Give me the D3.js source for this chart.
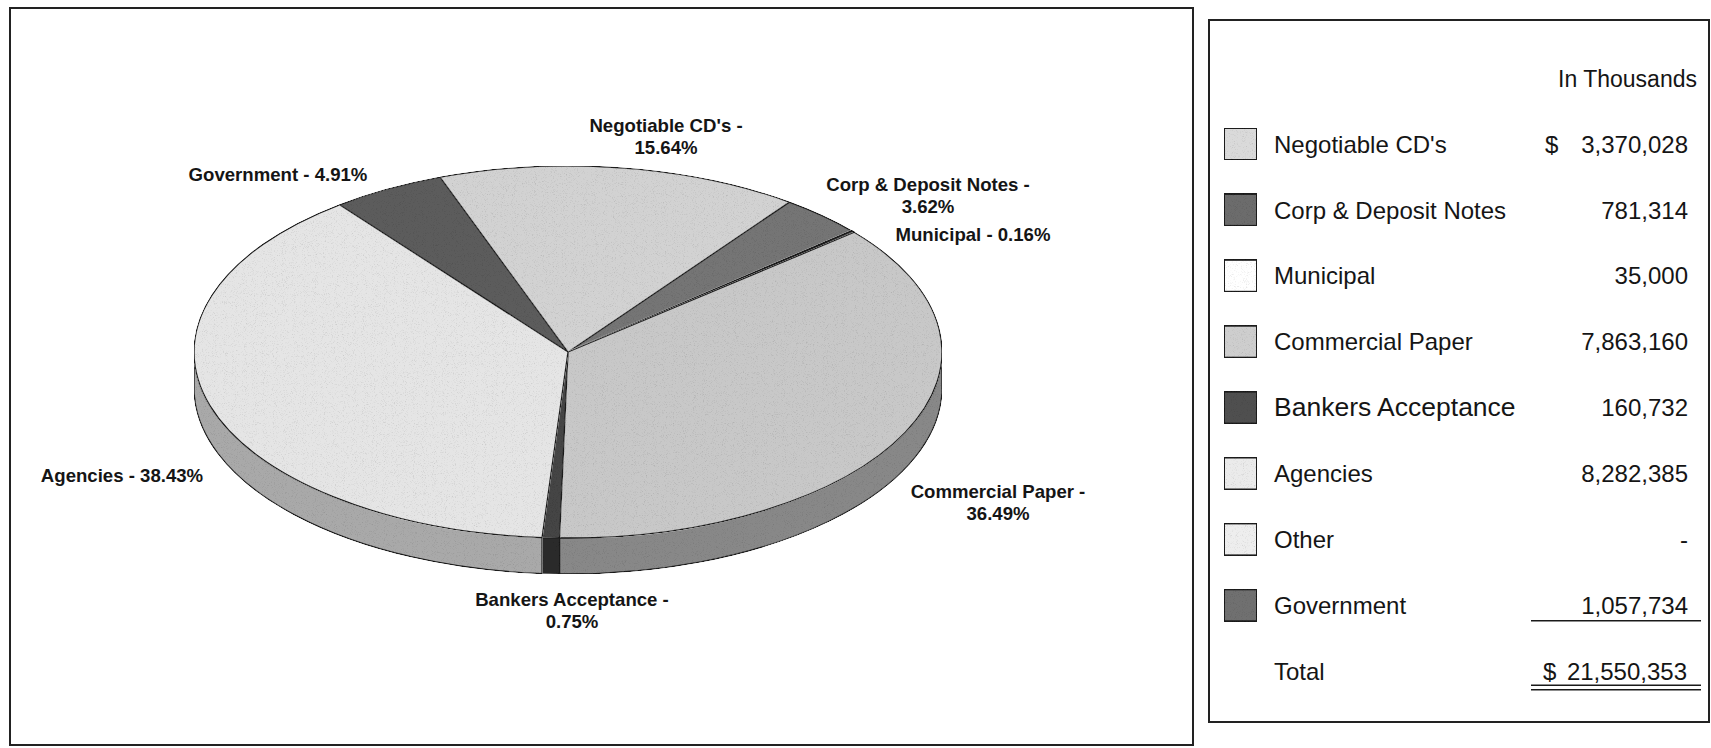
<!DOCTYPE html>
<html>
<head>
<meta charset="utf-8">
<script src="https://cdn.jsdelivr.net/npm/d3@7"></script>
<style>
  html, body { margin: 0; padding: 0; background: #fff; }
  svg { display: block; }
  .lbl { font-family: "Liberation Sans", Arial, sans-serif; font-weight: bold; font-size: 18.6px; fill: #151515; }
  .leg { font-family: "Liberation Sans", Arial, sans-serif; font-size: 24px; fill: #151515; }
</style>
</head>
<body>
<div id="container"></div>
<script>
// portfolio holdings, in thousands
const categories = ["Negotiable CD's", "Corp & Deposit Notes", "Municipal", "Commercial Paper",
                    "Bankers Acceptance", "Agencies", "Other", "Government"];
const amounts = [3370028, 781314, 35000, 7863160, 160732, 8282385, 0, 1057734];
// percentages as printed on the chart labels
const percents = [15.64, 3.62, 0.16, 36.49, 0.75, 38.43, 0, 4.91];

// grey shades used by the pie and legend
const topFills  = ["#d2d2d2", "#747474", "#ffffff", "#c8c8c8", "#444444", "#e5e5e5", "#ececec", "#5c5c5c"];
const sideFills = ["#a0a0a0", "#555555", "#dddddd", "#888888", "#2c2c2c", "#a9a9a9", "#b8b8b8", "#454545"];
const swatchFills = ["#dadada", "#6c6c6c", "#ffffff", "#cecece", "#505050", "#ebebeb", "#eeeeee", "#707070"];

// where Excel put each data label: centre x, first baseline, wrapped onto two lines?
const labelLayout = [[666, 132, true], [928, 191, true], [973, 241, false], [998, 498, true],
                     [572, 606, true], [122, 482, false], null, [278, 181, false]];

const W = 1711, H = 748;
const cx = 568, cy = 352, rx = 374, ry = 186, depth = 36;
const startAngle = -20 * Math.PI / 180;

const total = d3.sum(amounts);
const fmt = d3.format(",");

const svg = d3.select("#container").append("svg")
    .attr("width", W).attr("height", H);

// speckled, scanned look
const defs = svg.append("defs");
const grain = defs.append("filter").attr("id", "grain").attr("x", 0).attr("y", 0).attr("width", 1).attr("height", 1);
grain.append("feTurbulence").attr("type", "fractalNoise").attr("baseFrequency", 1.1).attr("numOctaves", 2).attr("seed", 4).attr("result", "noise");
grain.append("feColorMatrix").attr("in", "noise").attr("type", "matrix")
    .attr("values", "0.7 0 0 0 0.68  0.7 0 0 0 0.68  0.7 0 0 0 0.68  0 0 0 0 1").attr("result", "gn");
grain.append("feBlend").attr("in", "SourceGraphic").attr("in2", "gn").attr("mode", "multiply").attr("result", "bl");
grain.append("feComposite").attr("in", "bl").attr("in2", "SourceGraphic").attr("operator", "in");

// frames
svg.append("rect").attr("x", 10).attr("y", 8).attr("width", 1183).attr("height", 737)
    .attr("fill", "none").attr("stroke", "#222").attr("stroke-width", 2);
svg.append("rect").attr("x", 1209).attr("y", 20).attr("width", 500).attr("height", 702)
    .attr("fill", "none").attr("stroke", "#222").attr("stroke-width", 2);

// ---- 3D pie ----
const pie = d3.pie().sort(null).value(d => d.value)
    .startAngle(startAngle).endAngle(startAngle + 2 * Math.PI);
const slices = pie(categories.map((c, i) => ({ name: c, value: amounts[i], i: i })))
    .filter(d => d.endAngle > d.startAngle);

const pt = (a, dy = 0) => [cx + rx * Math.sin(a), cy - ry * Math.cos(a) + dy];

function topPath(a0, a1) {
    const large = (a1 - a0) > Math.PI ? 1 : 0;
    return `M${cx},${cy}L${pt(a0)}A${rx},${ry} 0 ${large} 1 ${pt(a1)}Z`;
}

function sidePath(a0, a1) {
    const s = Math.max(a0, Math.PI / 2), e = Math.min(a1, 3 * Math.PI / 2);
    if (e <= s) return null;
    return `M${pt(s)}A${rx},${ry} 0 0 1 ${pt(e)}L${pt(e, depth)}A${rx},${ry} 0 0 0 ${pt(s, depth)}Z`;
}

const pieG = svg.append("g");
pieG.selectAll("path.side").data(slices.filter(d => sidePath(d.startAngle, d.endAngle)))
    .enter().append("path").attr("class", "side")
    .attr("d", d => sidePath(d.startAngle, d.endAngle))
    .attr("fill", d => sideFills[d.data.i]).attr("filter", "url(#grain)")
    .attr("stroke", "#1a1a1a").attr("stroke-width", 1.3).attr("stroke-linejoin", "round");

pieG.selectAll("path.top").data(slices).enter().append("path").attr("class", "top")
    .attr("d", d => topPath(d.startAngle, d.endAngle))
    .attr("fill", d => topFills[d.data.i]).attr("filter", "url(#grain)")
    .attr("stroke", "#1a1a1a").attr("stroke-width", d => d.data.name === "Municipal" ? 2 : 1.3)
    .attr("stroke-linejoin", "round");

// data labels
const lbl = svg.append("g");
categories.forEach((name, i) => {
    const lay = labelLayout[i];
    if (!lay || amounts[i] === 0) return;
    const pct = percents[i].toFixed(2) + "%";
    const lines = lay[2] ? [name + " -", pct] : [name + " - " + pct];
    lbl.append("text").attr("class", "lbl").attr("text-anchor", "middle")
        .selectAll("tspan").data(lines).enter().append("tspan")
        .attr("x", lay[0]).attr("y", (d, j) => lay[1] + j * 22).text(d => d);
});

// ---- legend table ----
const rowY = d3.scaleLinear().domain([0, 1]).range([144, 144 + 65.9]);
const leg = svg.append("g");
const labelX = 1274, valueX = 1688, dollarX = 1545;

leg.append("text").attr("class", "leg").attr("x", 1697).attr("y", 78.6 + 8)
    .attr("text-anchor", "end").style("font-size", "23px").text("In Thousands");

categories.forEach((name, i) => {
    const y = rowY(i);
    leg.append("rect").attr("x", 1224).attr("y", y - 16).attr("width", 33).attr("height", 32)
        .attr("fill", swatchFills[i]).attr("filter", "url(#grain)")
        .attr("stroke", "#1a1a1a").attr("stroke-width", 2);
    leg.append("text").attr("class", "leg").attr("x", labelX).attr("y", y + 8.6)
        .style("font-size", name === "Bankers Acceptance" ? "26.5px" : null)
        .text(name);
    leg.append("text").attr("class", "leg").attr("x", valueX).attr("y", y + 8.6)
        .attr("text-anchor", "end").text(amounts[i] === 0 ? "-" : fmt(amounts[i]));
    if (i === 0) leg.append("text").attr("class", "leg").attr("x", dollarX).attr("y", y + 8.6).text("$");
});

const ty = rowY(categories.length);
leg.append("text").attr("class", "leg").attr("x", labelX).attr("y", ty + 8.6).text("Total");
leg.append("text").attr("class", "leg").attr("x", dollarX - 2).attr("y", ty + 8.6).text("$");
leg.append("text").attr("class", "leg").attr("x", valueX - 1).attr("y", ty + 8.6)
    .attr("text-anchor", "end").text(fmt(total));

// single rule above the total, double rule below it
const rule = (y) => leg.append("line").attr("x1", 1531).attr("x2", 1701).attr("y1", y).attr("y2", y)
    .attr("stroke", "#1a1a1a").attr("stroke-width", 1.6);
rule(rowY(categories.length - 1) + 15.5);
rule(ty + 14);
rule(ty + 18.5);
</script>
</body>
</html>
